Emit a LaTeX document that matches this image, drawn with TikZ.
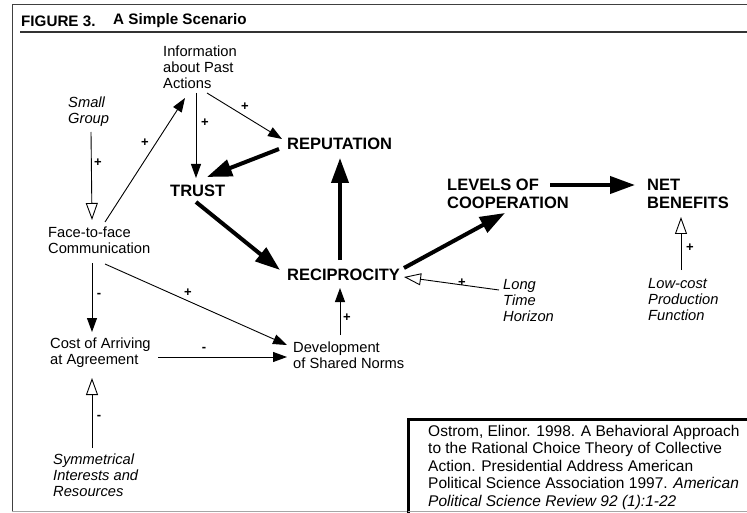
\documentclass[tikz,border=0pt]{standalone}
\usepackage{fontspec}
\setmainfont{Liberation Sans}
\usetikzlibrary{arrows.meta}

\begin{document}
\begin{tikzpicture}[x=1pt,y=-1pt,
  lab/.style={inner sep=0pt, anchor=west, align=left, font=\fontsize{14.7}{16}\selectfont},
  ital/.style={lab, font=\fontsize{14.7}{16}\selectfont\itshape},
  key/.style={inner sep=0pt, anchor=west, align=left, font=\fontsize{16.5}{18}\selectfont\bfseries},
  sign/.style={inner sep=0pt, font=\fontsize{13}{13}\selectfont\bfseries},
  thinarrow/.style={line width=0.9pt, -{Triangle[length=14pt,width=10pt]}},
  openarrow/.style={line width=0.9pt, -{Triangle[open,length=17pt,width=12pt,fill=white]}},
  heavy/.style={line width=4pt, -{Triangle[length=25pt,width=17pt]}},
  frameline/.style={draw=black!75, line width=1pt},
]
\useasboundingbox (0,0) rectangle (747,513);
\begin{scope}
\clip (0,0) rectangle (747,513);

% outer frame and header rule
\draw[frameline] (12,511) -- (12,5) -- (747,5);
\draw[draw=black!35, line width=0.8pt] (12,511.5) -- (408,511.5);
\draw[draw=black!80, line width=1.3pt] (20,32) -- (747,32);

% title
\node[inner sep=0pt, anchor=west, font=\fontsize{15.2}{17}\selectfont\bfseries] (fig) at (21,21) {FIGURE 3.};
\node[inner sep=0pt, anchor=west, font=\fontsize{15.2}{17}\selectfont\bfseries] (title) at (113,21) {A Simple Scenario};

% variables
\node[lab] (info) at (163,67) {Information\\about Past\\Actions};
\node[ital] (small) at (68,112) {Small\\Group};
\node[lab] (face) at (48,240) {Face-to-face\\Communication};
\node[lab] (cost) at (50,353) {Cost of Arriving\\at Agreement};
\node[ital] (sym) at (53,475) {Symmetrical\\Interests and\\Resources};
\node[lab] (dev) at (293,355) {Development\\of Shared Norms};
\node[ital] (long) at (503,301) {Long\\Time\\Horizon};
\node[ital] (low) at (648,300) {Low-cost\\Production\\Function};
\node[key] (trust) at (170,191) {TRUST};
\node[key] (rep) at (287,144) {REPUTATION};
\node[key] (recip) at (287,275) {RECIPROCITY};
\node[key] (levels) at (447,194) {LEVELS OF\\COOPERATION};
\node[key] (net) at (647,194) {NET\\BENEFITS};

% thin links
\draw[openarrow] ([shift={(23,20)}]small.west) -- ([shift={(44,-20)}]face.west);
\draw[thinarrow] ([shift={(57,-18)}]face.west) -- ([shift={(22,31)}]info.west);
\draw[thinarrow] ([shift={(33,26)}]info.west) -- ([shift={(26,-13)}]trust.west);
\draw[thinarrow] ([shift={(44,26)}]info.west) -- ([shift={(-5,-5)}]rep.west);
\draw[thinarrow] ([shift={(44,23)}]face.west) -- ([shift={(42,-21)}]cost.west);
\draw[thinarrow] ([shift={(57,24)}]face.west) -- ([shift={(-6,-10)}]dev.west);
\draw[thinarrow] ([shift={(108,4)}]cost.west) -- ([shift={(-6,2)}]dev.west);
\draw[thinarrow] ([shift={(47,-20)}]dev.west) -- ([shift={(53,13)}]recip.west);
\draw[openarrow] ([shift={(39,-27)}]sym.west) -- ([shift={(42,25)}]cost.west);
\draw[openarrow] ([shift={(-4,-11)}]long.west) -- ([shift={(117,2)}]recip.west);
\draw[openarrow] ([shift={(33,-30)}]low.west) -- ([shift={(34,23)}]net.west);

% core loop
\draw[heavy] ([shift={(-8,5)}]rep.west) -- ([shift={(37,-14)}]trust.west);
\draw[heavy] ([shift={(26,11)}]trust.west) -- ([shift={(-7,-5)}]recip.west);
\draw[heavy] ([shift={(53,-15)}]recip.west) -- ([shift={(53,14)}]rep.west);
\draw[heavy] ([shift={(117,-7)}]recip.west) -- ([shift={(58,19)}]levels.west);
\draw[heavy] ([shift={(103,-9)}]levels.west) -- ([shift={(-12,-9)}]net.west);

% signs
\node[sign] (s1) at (98,163) {+};
\node[sign] (s2) at (145,143) {+};
\node[sign] (s3) at (205,123) {+};
\node[sign] (s4) at (245,107) {+};
\node[sign] (s5) at (462,283) {+};
\node[sign] (s6) at (690,248) {+};
\node[sign] (s7) at (347,318) {+};
\node[sign] (s8) at (188,293) {+};
\node[sign] (s9) at (99,295) {-};
\node[sign] (s10) at (204,349) {-};
\node[sign] (s11) at (99,417) {-};

% reference box
\draw[line width=3pt] (408,513) -- (408,419.5) -- (750,419.5);
\draw[draw=black!35, line width=0.8pt] (408,511.5) -- (747,511.5);
\node[inner sep=0pt, anchor=west, align=left, font=\fontsize{15.5}{17.5}\selectfont] (cite) at (428,467)
  {Ostrom, Elinor. 1998. A Behavioral Approach\\
   to the Rational Choice Theory of Collective\\
   Action. Presidential Address American\\
   Political Science Association 1997. \textit{American}\\
   \textit{Political Science Review 92 (1):1-22}};
\end{scope}
\end{tikzpicture}
\end{document}
